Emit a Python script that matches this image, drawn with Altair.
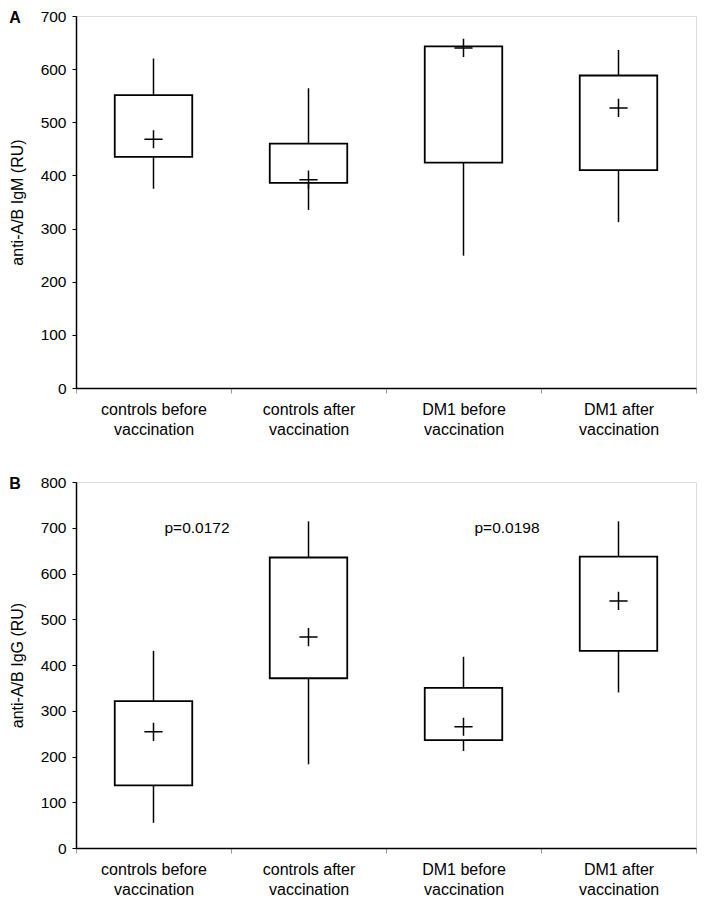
import altair as alt
import pandas as pd

cats = ["controls before vaccination", "controls after vaccination",
        "DM1 before vaccination", "DM1 after vaccination"]

# Panel A: anti-A/B IgM (RU)
igm_min = [375, 335, 249, 312]
igm_q1 = [435, 386, 424, 410]
igm_q3 = [551, 460, 643, 588]
igm_max = [620, 564, 645, 636]
igm_mean = [468, 392, 640, 527]

# Panel B: anti-A/B IgG (RU)
igg_min = [55, 183, 212, 340]
igg_q1 = [137, 371, 236, 431]
igg_q3 = [321, 635, 350, 637]
igg_max = [431, 714, 418, 714]
igg_mean = [254, 461, 265, 540]

p_cats = ["controls before vaccination", "DM1 before vaccination"]
p_text = ["p=0.0172", "p=0.0198"]
p_y = [700, 700]

igm_ticks = [0, 100, 200, 300, 400, 500, 600, 700]
igg_ticks = [0, 100, 200, 300, 400, 500, 600, 700, 800]

FONT = "Liberation Sans"
PLUS = "M-1,0L1,0M0,-1L0,1"


def panel(mins, q1, q3, maxs, means, ticks, ytitle, letter, height, ann=None):
    df = pd.DataFrame({"cat": cats, "lo": mins, "q1": q1, "q3": q3,
                       "hi": maxs, "mean": means})
    x = alt.X("cat:N", sort=cats,
              scale=alt.Scale(paddingInner=0, paddingOuter=0),
              axis=alt.Axis(title=None, labelAngle=0, labelFontSize=16,
                            labelColor="black", labelFont=FONT,
                            labelExpr="datum.label ? [replace(datum.label, ' vaccination', ''), 'vaccination'] : ''",
                            labelLineHeight=20, labelPadding=8,
                            tickBand="extent", tickColor="#999999", tickSize=5,
                            domainColor="black", domainWidth=1.5))
    y_scale = alt.Scale(domain=[ticks[0], ticks[-1]], nice=False)
    y_axis = alt.Axis(title=ytitle, values=ticks, labelFontSize=15.5,
                      labelColor="black", labelFont=FONT, titleFont=FONT,
                      titleFontSize=16, titleFontWeight="normal",
                      titleColor="black", titlePadding=15, labelPadding=6,
                      tickSize=4, tickColor="black", grid=False,
                      domainColor="black", domainWidth=1.5)
    base = alt.Chart(df)
    rule = base.mark_rule(color="black", strokeWidth=1.5).encode(
        x=x, y=alt.Y("lo:Q", scale=y_scale, axis=y_axis), y2="hi:Q")
    box = base.mark_bar(width=alt.RelativeBandSize(0.5), fill="white",
                        stroke="black", strokeWidth=1.8).encode(
        x=x, y=alt.Y("q1:Q", scale=y_scale), y2="q3:Q")
    pt = base.mark_point(shape=PLUS, size=330, filled=False, color="black",
                         strokeWidth=1.5, opacity=1).encode(
        x=x, y=alt.Y("mean:Q", scale=y_scale))
    layers = [rule, box, pt]
    if ann is not None:
        adf = pd.DataFrame({"cat": ann[0], "txt": ann[1], "yv": ann[2]})
        txt = alt.Chart(adf).mark_text(align="left", baseline="middle", dx=11,
                                       fontSize=15.5, font=FONT, color="black").encode(
            x=x, y=alt.Y("yv:Q", scale=y_scale), text="txt:N")
        layers.append(txt)
    return alt.layer(*layers).properties(
        width=620, height=height,
        title=alt.TitleParams(letter, anchor="start", frame="bounds",
                              fontSize=16, fontWeight="bold", font=FONT,
                              color="black", dy=17, offset=0))


a = panel(igm_min, igm_q1, igm_q3, igm_max, igm_mean, igm_ticks,
          "anti-A/B IgM (RU)", "A", 372)
b = panel(igg_min, igg_q1, igg_q3, igg_max, igg_mean, igg_ticks,
          "anti-A/B IgG (RU)", "B", 366, ann=(p_cats, p_text, p_y))

chart = alt.vconcat(a, b, spacing=36).configure_view(
    stroke="black", strokeWidth=1.5).configure(padding=0, font=FONT)

chart.save("out.html", embed_options={"renderer": "svg", "actions": False})
